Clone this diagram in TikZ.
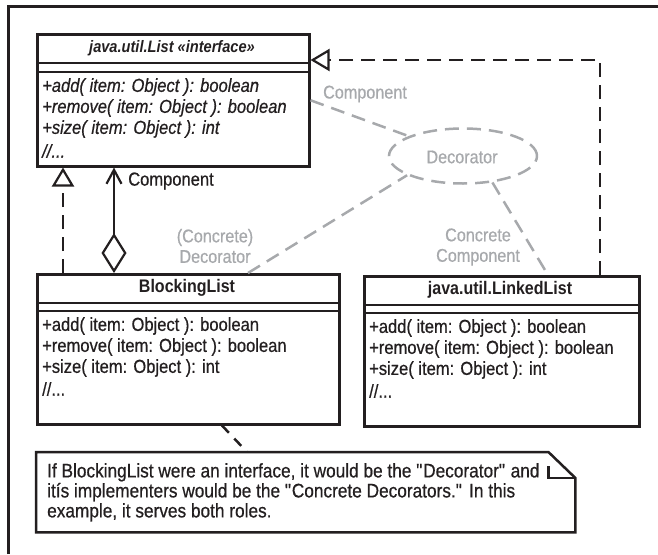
\documentclass[tikz,border=0pt]{standalone}
\usepackage{fontspec}
\setmainfont{Liberation Sans}[FakeStretch=0.88,
  UprightFeatures={FakeBold=0.6}, ItalicFeatures={FakeBold=0.6}]
\usetikzlibrary{arrows.meta,shapes.geometric}
\definecolor{ink}{HTML}{231F20}
\definecolor{hint}{HTML}{A7A9AC}
\tikzset{
  classbox/.style={draw=ink, line width=2.5pt, rectangle, inner sep=0pt, anchor=north west},
  sepline/.style={draw=ink, line width=2.5pt},
  member/.style={anchor=west, inner sep=0pt, text=ink, font=\fontsize{18.8}{20}\selectfont},
  imember/.style={member, font=\fontsize{18.8}{20}\selectfont\itshape},
  ctitle/.style={inner sep=0pt, text=ink, font=\fontsize{18.2}{20}\selectfont\bfseries},
  realize/.style={draw=ink, line width=2.5pt, dash pattern=on 14pt off 8pt,
    -{Triangle[open, length=19pt, width=22pt, line width=2.2pt]}},
  assoc/.style={draw=ink, line width=2.5pt},
  roleline/.style={draw=hint, line width=2.5pt, dash pattern=on 14pt off 8pt},
  rolelabel/.style={inner sep=0pt, text=hint, align=center,
    font=\fontsize{18.4}{20.5}\selectfont},
  notetext/.style={anchor=north west, inner sep=0pt, text=ink, align=left,
    font=\fontsize{19.6}{20}\selectfont},
}
\begin{document}
\begin{tikzpicture}[x=1pt, y=-1pt]
\useasboundingbox (0,0) rectangle (658,554);
% outer frame (open to the right and bottom)
\draw[ink, line width=3pt] (8,554) -- (8,6) -- (660,6);

% --- java.util.List ---
\node[classbox, minimum width=272pt, minimum height=132pt] (list) at (36,33) {};
\draw[sepline] (36,63) -- (308,63) (36,72) -- (308,72);
\node[ctitle, font=\fontsize{16.6}{20}\selectfont\bfseries\itshape] (listname) at (172,48) {java.util.List «interface»};
\node[imember] (la) at (42,87) {+add( item: Object ): boolean};
\node[imember] (lr) at (42,108) {+remove( item: Object ): boolean};
\node[imember] (ls) at (42,129) {+size( item: Object ): int};
\node[imember] (le) at (42,151) {//...};

% --- BlockingList ---
\node[classbox, minimum width=302pt, minimum height=150pt] (bl) at (36,273) {};
\draw[sepline] (36,303) -- (338,303) (36,311) -- (338,311);
\node[ctitle] (blname) at (187,288) {BlockingList};
\node[member] (ba) at (42,326) {+add( item: Object ): boolean};
\node[member] (br) at (42,347) {+remove( item: Object ): boolean};
\node[member] (bs) at (42,368) {+size( item: Object ): int};
\node[member] (be) at (42,389) {//...};

% --- java.util.LinkedList ---
\node[classbox, minimum width=275pt, minimum height=150pt] (ll) at (363,275) {};
\draw[sepline] (363,305) -- (638,305) (363,313) -- (638,313);
\node[ctitle] (llname) at (500,290) {java.util.LinkedList};
\node[member] (kla) at (369,328) {+add( item: Object ): boolean};
\node[member] (klr) at (369,349) {+remove( item: Object ): boolean};
\node[member] (kls) at (369,370) {+size( item: Object ): int};
\node[member] (kle) at (369,391) {//...};

% --- note ---
\node[inner sep=0pt, minimum width=539pt, minimum height=80pt, anchor=north west] (note) at (36,452) {};
\draw[ink, line width=2.5pt, line join=miter]
  (note.north west) -- ([xshift=-27pt]note.north east) -- ([yshift=-26pt]note.north east)
  -- (note.south east) -- (note.south west) -- cycle;
\draw[ink, line width=2.5pt]
  ([xshift=-27pt, yshift=-14pt]note.north east) -- ([xshift=-27pt, yshift=-26pt]note.north east)
  -- ([yshift=-26pt]note.north east);
\node[notetext] (notebody) at (47,463) {If BlockingList were an interface, it would be the \textquotedbl Decorator\textquotedbl{} and\\
itís implementers would be the \textquotedbl Concrete Decorators.\textquotedbl{} In this\\
example, it serves both roles.};

% --- connectors ---
% BlockingList realizes List
\draw[realize] ([xshift=27pt]bl.north west) -- ([xshift=27pt]list.south west);
% LinkedList realizes List
\draw[realize] ([xshift=237pt]ll.north west) |- ([yshift=-27pt]list.north east);
% aggregation BlockingList -> List
\draw[assoc, {Diamond[open, length=40pt, width=25pt, line width=2.2pt]}-{Straight Barb[length=14pt, width=15pt, line width=2.2pt]}]
  ([xshift=78pt]bl.north west) -- ([xshift=78pt]list.south west);
\node[anchor=west, inner sep=0pt, text=ink, font=\fontsize{18.8}{20}\selectfont] (complbl) at (128,181) {Component};
% note anchor
\draw[ink, line width=2.5pt, dash pattern=on 10pt off 8pt] ([xshift=186pt]bl.south west) -- ([xshift=211pt]note.north west);

% --- pattern roles ---
\node[draw=hint, line width=2.5pt, dash pattern=on 14pt off 8pt, ellipse,
  minimum width=148pt, minimum height=55pt, inner sep=0pt] (dec) at (463,156) {};
\node[rolelabel] (declbl) at (462,157) {Decorator};
\draw[roleline] (list.east) -- (dec);
\draw[roleline] ([xshift=212pt]bl.north west) -- (dec.199);
\draw[roleline] (dec.318) -- ([xshift=185pt]ll.north west);
\node[rolelabel] (rcomp) at (365,94) {Component};
\node[rolelabel] (rcdec) at (215,246) {(Concrete)\\Decorator};
\node[rolelabel] (rccomp) at (478,247) {Concrete\\Component};
\end{tikzpicture}
\end{document}
